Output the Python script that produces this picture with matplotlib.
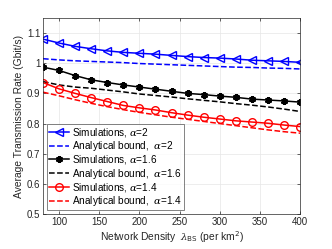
import numpy as np
import matplotlib
matplotlib.use("Agg")
import matplotlib.pyplot as plt
from matplotlib.ticker import FuncFormatter

plt.rcParams['font.family'] = ['Liberation Sans', 'DejaVu Sans']
plt.rcParams['mathtext.fontset'] = 'custom'
plt.rcParams['mathtext.it'] = 'DejaVu Serif:italic'

density = [80, 100, 120, 140, 160, 180, 200, 220, 240, 260, 280, 300, 320, 340, 360, 380, 400]

sim_a2 = [1.080, 1.067, 1.056, 1.048, 1.041, 1.036, 1.033, 1.030, 1.026, 1.022,
          1.019, 1.017, 1.014, 1.010, 1.008, 1.006, 1.003]
sim_a16 = [0.987, 0.976, 0.959, 0.945, 0.936, 0.928, 0.921, 0.914, 0.907, 0.900,
           0.896, 0.891, 0.887, 0.881, 0.878, 0.875, 0.871]
sim_a14 = [0.936, 0.915, 0.900, 0.886, 0.873, 0.860, 0.852, 0.845, 0.836, 0.828,
           0.821, 0.815, 0.809, 0.805, 0.801, 0.795, 0.790]

bound_a2 = [1.015, 1.011, 1.008, 1.006, 1.004, 1.002, 0.999, 0.997, 0.995, 0.993,
            0.991, 0.989, 0.987, 0.986, 0.984, 0.983, 0.981]
bound_a16 = [0.939, 0.928, 0.921, 0.917, 0.911, 0.905, 0.898, 0.893, 0.888, 0.882,
             0.877, 0.872, 0.866, 0.861, 0.855, 0.848, 0.840]
bound_a14 = [0.904, 0.892, 0.879, 0.867, 0.856, 0.846, 0.837, 0.829, 0.821, 0.814,
             0.807, 0.800, 0.793, 0.786, 0.779, 0.773, 0.768]

fig = plt.figure(figsize=(3.32, 2.49), dpi=100)
ax = fig.add_axes([43/332, 1 - 214/249, 257/332, 196/249])

lw = 1.1
ax.plot(density, sim_a2, '-', color='b', marker='<', mfc='none', ms=5.5, mew=1, lw=lw,
        label=r'Simulations, $\alpha$=2')
ax.plot(density, bound_a2, '--', color='b', lw=lw, label=r'Analytical bound,  $\alpha$=2')
ax.plot(density, sim_a16, '-', color='k', marker=(6, 2, 0), ms=5, mew=1.6, lw=lw,
        label=r'Simulations, $\alpha$=1.6')
ax.plot(density, bound_a16, '--', color='k', lw=lw, label=r'Analytical bound,  $\alpha$=1.6')
ax.plot(density, sim_a14, '-', color='r', marker='o', mfc='none', ms=5.5, mew=1, lw=lw,
        label=r'Simulations, $\alpha$=1.4')
ax.plot(density, bound_a14, '--', color='r', lw=lw, label=r'Analytical bound,  $\alpha$=1.4')

ax.set_xlim(80, 400)
ax.set_ylim(0.5, 1.15)
ax.set_xticks([100, 150, 200, 250, 300, 350, 400])
ax.set_yticks([0.5, 0.6, 0.7, 0.8, 0.9, 1.0, 1.1])
ax.yaxis.set_major_formatter(FuncFormatter(lambda v, p: f'{v:g}'))
ax.tick_params(direction='in', top=True, right=True, labelsize=7, length=2.5,
               width=0.5, colors='#262626', pad=2)
ax.grid(True, color='#e6e6e6', lw=0.5)
for s in ax.spines.values():
    s.set_color('#262626')
    s.set_linewidth(0.5)

ax.set_xlabel(r'Network Density  $\lambda_{\rm BS}$ (per km$^2$)', fontsize=7.4,
              color='#262626', labelpad=2)
ax.set_ylabel('Average Transmission Rate (Gbit/s)', fontsize=7.4, color='#262626',
              labelpad=2)

leg = ax.legend(loc='lower left', fontsize=7.2, frameon=True, fancybox=False,
                borderaxespad=0.4, handlelength=2.0, handletextpad=0.3,
                labelspacing=0.02, borderpad=0.2)
leg.get_frame().set_edgecolor('#262626')
leg.get_frame().set_linewidth(0.5)

fig.savefig('out.png', dpi=100)
